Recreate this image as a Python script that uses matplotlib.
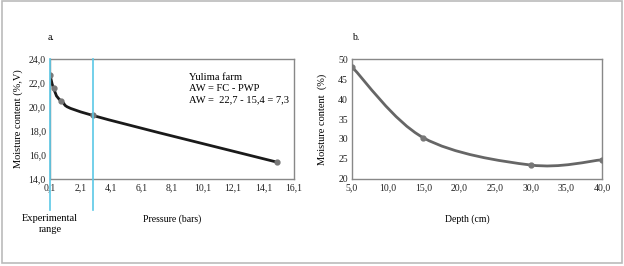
import matplotlib.pyplot as plt
import numpy as np
from matplotlib.path import Path
from matplotlib.patches import PathPatch, Rectangle
from matplotlib.ticker import FuncFormatter

plt.rcParams['font.family'] = ['Liberation Serif', 'DejaVu Serif']

''' DATA '''
# a. retention curve, Yulima farm
pressure = [0.1, 0.33, 0.85, 2.9, 15.0]
moisture_a = [22.7, 21.6, 20.5, 19.3, 15.4]
exp_range = [0.1, 2.9]   # experimental range limits (bars)

# b. moisture vs depth
depth = [5.0, 15.0, 30.0, 40.0]
moisture_b = [48.0, 30.3, 23.5, 24.8]


def smooth_path(x, y):
    # excel style smoothed line -> cubic bezier segments
    x = np.asarray(x, float); y = np.asarray(y, float)
    n = len(x)
    verts = [(x[0], y[0])]; codes = [Path.MOVETO]
    for i in range(n - 1):
        i0 = max(i - 1, 0); i3 = min(i + 2, n - 1)
        c1 = (x[i] + (x[i + 1] - x[i0]) / 6, y[i] + (y[i + 1] - y[i0]) / 6)
        c2 = (x[i + 1] - (x[i3] - x[i]) / 6, y[i + 1] - (y[i3] - y[i]) / 6)
        verts += [c1, c2, (x[i + 1], y[i + 1])]
        codes += [Path.CURVE4] * 3
    return Path(verts, codes)


comma = lambda d: FuncFormatter(lambda v, p: ('{:.%df}' % d).format(v).replace('.', ','))

fig = plt.figure(figsize=(6.24, 2.66), dpi=100)
fig.patches.append(Rectangle((0.003, 0.011), 0.993, 0.984, transform=fig.transFigure,
                             fill=False, edgecolor='#bbbbbb', lw=1.2))

ax1 = fig.add_axes([50/624, 1-179/266, 244/624, 120/266])
ax2 = fig.add_axes([352/624, 1-179/266, 250/624, 120/266])

for ax in (ax1, ax2):
    for s in ax.spines.values():
        s.set_color('#888888'); s.set_linewidth(1.0)
    ax.tick_params(length=0, pad=3, labelsize=7, colors='#222222')

# ---- a.
ax1.add_patch(PathPatch(smooth_path(pressure, moisture_a), fill=False, color='#1a1a1a', lw=2))
ax1.plot(pressure, moisture_a, 'o', ms=3.5, color='#777777', zorder=3)
for xv in exp_range:
    ax1.axvline(xv, ymin=-0.258, ymax=1, color='#5bc8e6', lw=1.2, clip_on=False, zorder=4)
ax1.set_xlim(0.1, 16.1); ax1.set_ylim(14, 24)
ax1.set_xticks(np.arange(0.1, 16.2, 2)); ax1.set_yticks(np.arange(14, 24.1, 2))
ax1.xaxis.set_major_formatter(comma(1)); ax1.yaxis.set_major_formatter(comma(1))
ax1.set_ylabel('Moisture content (%,V)', fontsize=7.5, labelpad=4)
ax1.text(0.57, 0.88, 'Yulima farm\nAW = FC - PWP\nAW =  22,7 - 15,4 = 7,3', transform=ax1.transAxes,
         fontsize=7.6, va='top', ha='left', linespacing=1.25)
fig.text(48/624, 1-37/266, 'a.', fontsize=7, va='center')
fig.text(50/624, 1-224/266, 'Experimental\nrange', fontsize=7.5, ha='center', va='center', linespacing=1.2)
fig.text(172/624, 1-219/266, 'Pressure (bars)', fontsize=7, ha='center', va='center')

# ---- b.
ax2.add_patch(PathPatch(smooth_path(depth, moisture_b), fill=False, color='#666666', lw=2))
ax2.plot(depth, moisture_b, 'o', ms=3.5, color='#777777', zorder=3)
ax2.set_xlim(5, 40); ax2.set_ylim(20, 50)
ax2.set_xticks(np.arange(5, 40.1, 5)); ax2.set_yticks(np.arange(20, 50.1, 5))
ax2.xaxis.set_major_formatter(comma(1)); ax2.yaxis.set_major_formatter(comma(0))
ax2.set_ylabel('Moisture content  (%)', fontsize=7.5, labelpad=8)
fig.text(352/624, 1-37/266, 'b.', fontsize=7, va='center')
fig.text(467/624, 1-219/266, 'Depth (cm)', fontsize=7, ha='center', va='center')

plt.savefig('out.png', dpi=100)
